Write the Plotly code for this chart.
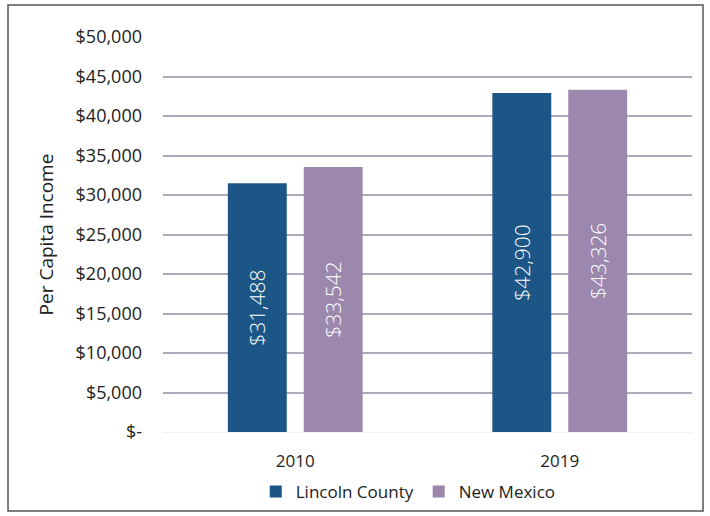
import plotly.graph_objects as go

years = ["2010", "2019"]
lincoln_county = [31488, 42900]
new_mexico = [33542, 43326]
tick_values = [0, 5000, 10000, 15000, 20000, 25000, 30000, 35000, 40000, 45000, 50000]
tick_labels = ["$-", "$5,000", "$10,000", "$15,000", "$20,000", "$25,000",
               "$30,000", "$35,000", "$40,000", "$45,000", "$50,000"]

FONT = "'Open Sans', Lato, sans-serif"
W, H = 710, 516
ML, MR, MT, MB = 163, 18, 37, 84


def money(v):
    return "${:,}".format(v)


fig = go.Figure()
fig.add_trace(go.Bar(
    name="Lincoln County", x=years, y=lincoln_county,
    marker=dict(color="#1b5686", line=dict(width=0)),
    text=[money(v) for v in lincoln_county],
    textposition="inside", insidetextanchor="middle", textangle=-90,
    textfont=dict(color="white", size=21, family=FONT, weight=300),
))
fig.add_trace(go.Bar(
    name="New Mexico", x=years, y=new_mexico,
    marker=dict(color="#9c88ad", line=dict(width=0)),
    text=[money(v) for v in new_mexico],
    textposition="inside", insidetextanchor="middle", textangle=-90,
    textfont=dict(color="white", size=21, family=FONT, weight=300),
))

# outer frame around the whole chart
pw, ph = W - ML - MR, H - MT - MB
x0, x1 = (8 - ML) / pw, (703 - ML) / pw
y0, y1 = (H - MB - 511) / ph, (H - MB - 5) / ph
fig.add_shape(type="rect", xref="paper", yref="paper",
              x0=x0, x1=x1, y0=y0, y1=y1,
              line=dict(color="#555555", width=1.5), layer="below")

fig.update_layout(
    width=W, height=H,
    margin=dict(l=ML, r=MR, t=MT, b=MB, autoexpand=False),
    paper_bgcolor="white", plot_bgcolor="white",
    barmode="group", bargap=0.426, bargroupgap=0.224,
    font=dict(family=FONT, color="#222222"),
    showlegend=True,
    legend=dict(orientation="h", x=0.575, xref="container", xanchor="center",
                y=(H - 492) / H, yref="container", yanchor="middle",
                bgcolor="rgba(0,0,0,0)",
                font=dict(size=17, color="#222222"), itemwidth=30,
                traceorder="normal"),
    xaxis=dict(tickfont=dict(size=17, color="#222222"), showline=False,
               ticks="", showgrid=False, automargin=False, ticklabelstandoff=17),
    yaxis=dict(range=[0, 50000], tickvals=tick_values, ticktext=tick_labels,
               tickfont=dict(size=18, color="#222222"),
               showgrid=True, gridcolor="#b0a8bb", gridwidth=1.5,
               zeroline=True, zerolinecolor="#f0f0f0", zerolinewidth=1,
               ticks="", ticklen=0, ticklabelstandoff=20, automargin=False,
               title=dict(text="Per Capita Income", font=dict(size=19, color="#222222"),
                          standoff=16)),
)

fig.write_html("out.html")
